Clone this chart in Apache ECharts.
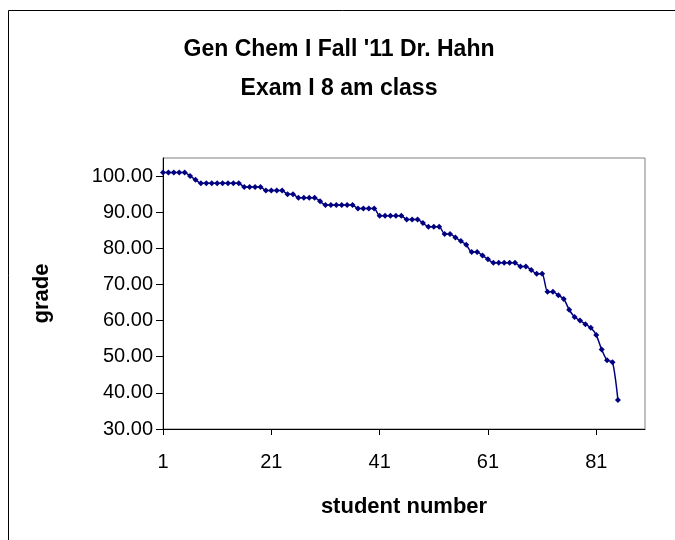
<!DOCTYPE html>
<html>
<head>
<meta charset="utf-8">
<script src="https://cdn.jsdelivr.net/npm/echarts@6/dist/echarts.min.js"></script>
<style>
html,body{margin:0;padding:0;background:#fff;}
#c{width:675px;height:540px;}
</style>
</head>
<body>
<div id="c"></div>
<script>
var categories = ['1','2','3','4','5','6','7','8','9','10','11','12','13','14','15','16','17','18','19','20',
'21','22','23','24','25','26','27','28','29','30','31','32','33','34','35','36','37','38','39','40',
'41','42','43','44','45','46','47','48','49','50','51','52','53','54','55','56','57','58','59','60',
'61','62','63','64','65','66','67','68','69','70','71','72','73','74','75','76','77','78','79','80',
'81','82','83','84','85','86','87','88','89','90'];
var grades = [101,101,101,101,101,100,99,98,98,98,98,98,98,98,98,97,97,97,97,96,
96,96,96,95,95,94,94,94,94,93,92,92,92,92,92,92,91,91,91,91,
89,89,89,89,89,88,88,88,87,86,86,86,84,84,83,82,81,79,79,78,
77,76,76,76,76,76,75,75,74,73,73,68,68,67,66,63,61,60,59,58,
56,52,49,48.5,38];
var yTicks = [30,40,50,60,70,80,90,100];

var font = 'Liberation Sans, Arial, sans-serif';
var chart = echarts.init(document.getElementById('c'));
chart.setOption({
  backgroundColor: '#fff',
  animation: false,
  graphic: [{
    type: 'rect', shape: {x: 8.5, y: 10.5, width: 720, height: 600},
    style: {fill: 'none', stroke: '#000', lineWidth: 1}, silent: true
  }],
  title: {
    text: "Gen Chem I Fall '11 Dr. Hahn\nExam I 8 am class",
    left: 334, top: 25, textAlign: 'center',
    textStyle: {fontFamily: font, fontSize: 23, fontWeight: 'bold', color: '#000', lineHeight: 39}
  },
  grid: {left: 163, top: 158, right: 30, bottom: 111, show: true, borderColor: '#808080', borderWidth: 1, backgroundColor: '#fff'},
  xAxis: {
    type: 'category', data: categories, boundaryGap: false,
    name: 'student number', nameLocation: 'middle', nameGap: 67, nameMoveOverlap: false,
    nameTextStyle: {fontFamily: font, fontSize: 22, fontWeight: 'bold', color: '#000'},
    axisLine: {lineStyle: {color: '#000', width: 1}},
    axisTick: {show: true, interval: 19, length: 6, lineStyle: {color: '#000'}},
    axisLabel: {interval: 19, margin: 23, fontFamily: font, fontSize: 20, color: '#000'},
    splitLine: {show: false}
  },
  yAxis: {
    type: 'value', min: 30, max: 105, interval: 10,
    name: 'grade', nameLocation: 'middle', nameGap: 110, nameRotate: 90, nameMoveOverlap: false,
    nameTextStyle: {fontFamily: font, fontSize: 22, fontWeight: 'bold', color: '#000'},
    axisLine: {show: true, lineStyle: {color: '#000', width: 1}},
    axisTick: {show: true, length: 7, lineStyle: {color: '#000'}},
    axisLabel: {margin: 10, showMaxLabel: false, fontFamily: font, fontSize: 20, color: '#000',
      formatter: function(v){ return yTicks.indexOf(v) >= 0 ? v.toFixed(2) : ''; }},
    splitLine: {show: false}
  },
  series: [{
    type: 'line', data: grades, smooth: 0.25,
    symbol: 'diamond', symbolSize: 6, showAllSymbol: true,
    lineStyle: {color: '#000080', width: 1.5},
    itemStyle: {color: '#000080'}
  }]
});
</script>
</body>
</html>
